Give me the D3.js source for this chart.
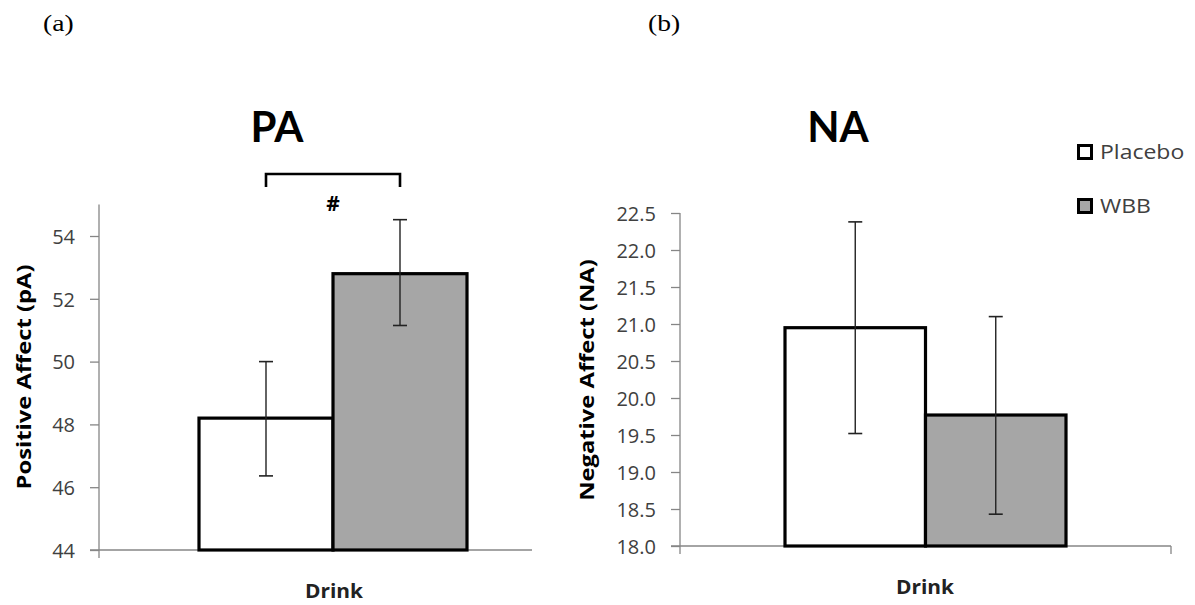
<!DOCTYPE html>
<html><head><meta charset="utf-8">
<script src="https://cdn.jsdelivr.net/npm/d3@7"></script>
<style>body{margin:0;background:#fff}svg{display:block}</style>
</head><body><svg id="c" width="1195" height="605"></svg>
<script>
const groups = ["Placebo", "WBB"];
const paMeans = [48.2, 52.8];
const paLow = [46.36, 51.15];
const paHigh = [50.0, 54.52];
const naMeans = [20.95, 19.77];
const naLow = [19.52, 18.43];
const naHigh = [22.38, 21.1];
const paTicks = [44, 46, 48, 50, 52, 54];
const naTicks = [18.0, 18.5, 19.0, 19.5, 20.0, 20.5, 21.0, 21.5, 22.0, 22.5];
const fills = ["#ffffff", "#a6a6a6"];

const svg = d3.select("#c");
const F = "Lato, 'Open Sans', sans-serif";
const F2 = "'Open Sans', Lato, sans-serif";
const axisCol = "#868686";

function panel(o) {
  const y = d3.scaleLinear().domain(o.domain).range([o.y0, o.y1]);
  const x = d3.scaleBand().domain(groups).range(o.bandRange).padding(0);
  const g = svg.append("g");
  // y axis
  const ax = d3.axisLeft(y).tickValues(o.ticks).tickSize(9).tickFormat(o.fmt);
  const ag = g.append("g").attr("transform", `translate(${o.ax},0)`).call(ax);
  ag.select(".domain").remove();
  ag.selectAll(".tick line").attr("stroke", axisCol).attr("stroke-width", 1.3);
  ag.selectAll(".tick text").attr("font-family", F2).attr("font-size", 20).attr("fill", "#404040").attr("x", -24).attr("dy", "0.36em");
  g.append("line").attr("x1", o.ax).attr("x2", o.ax).attr("y1", y(o.domain[1])).attr("y2", o.y0 + 8).attr("stroke", axisCol).attr("stroke-width", 1.3);
  // x axis
  g.append("line").attr("x1", o.ax - 9).attr("x2", o.xEnd).attr("y1", o.y0).attr("y2", o.y0).attr("stroke", axisCol).attr("stroke-width", 1.3);
  if (o.endTick) g.append("line").attr("x1", o.xEnd).attr("x2", o.xEnd).attr("y1", o.y0).attr("y2", o.y0 + 8).attr("stroke", axisCol).attr("stroke-width", 1.3);
  // bars
  g.selectAll("rect.bar").data(groups).join("rect").attr("class", "bar")
    .attr("x", d => x(d)).attr("width", x.bandwidth())
    .attr("y", (d, i) => y(o.means[i])).attr("height", (d, i) => y(o.domain[0]) - y(o.means[i]))
    .attr("fill", (d, i) => fills[i]).attr("stroke", "#000").attr("stroke-width", 3.2);
  // error bars
  groups.forEach((d, i) => {
    const cx = x(d) + x.bandwidth() / 2;
    g.append("line").attr("x1", cx).attr("x2", cx).attr("y1", y(o.low[i])).attr("y2", y(o.high[i])).attr("stroke", "#222").attr("stroke-width", 1.4);
    [o.low[i], o.high[i]].forEach(v => {
      g.append("line").attr("x1", cx - 7).attr("x2", cx + 7).attr("y1", y(v)).attr("y2", y(v)).attr("stroke", "#222").attr("stroke-width", 1.6);
    });
  });
  // title
  g.append("text").attr("x", o.titleX).attr("y", 142).attr("text-anchor", "middle").attr("font-family", F).attr("font-weight", "bold").attr("font-size", 42).attr("fill", "#000").text(o.title);
  // y label (stretched along its length to match reference)
  g.append("text").attr("transform", `translate(${o.ylabX},${o.ylabY}) rotate(-90) scale(1.25,1)`).attr("text-anchor", "middle").attr("font-family", F2).attr("font-weight", "bold").attr("font-size", 19).attr("fill", "#000").attr("dy", "0.36em").text(o.ylab);
  // x label
  g.append("text").attr("transform", `translate(${o.drinkX},${o.drinkY}) scale(1.1,1)`).attr("text-anchor", "middle").attr("font-family", F2).attr("font-weight", "bold").attr("font-size", 19).attr("fill", "#222").text("Drink");
  // panel letter
  g.append("text").attr("transform", `translate(${o.letterX},31) scale(1.2,1)`).attr("font-family", "'Liberation Serif', 'Times New Roman', serif").attr("font-size", 23).attr("fill", "#000").text(o.letter);
  return {x, y, g};
}

const pa = panel({domain: [44, 55], y0: 550, y1: 204.6, bandRange: [199, 467], ax: 99, xEnd: 532, endTick: false,
  ticks: paTicks, fmt: d3.format("d"), means: paMeans, low: paLow, high: paHigh,
  title: "PA", titleX: 277, ylab: "Positive Affect (pA)", ylabX: 24, ylabY: 377,
  drinkX: 334, drinkY: 598, letter: "(a)", letterX: 43});

const na = panel({domain: [18, 22.5], y0: 546, y1: 213, bandRange: [785, 1066], ax: 680, xEnd: 1171, endTick: true,
  ticks: naTicks, fmt: d3.format(".1f"), means: naMeans, low: naLow, high: naHigh,
  title: "NA", titleX: 838, ylab: "Negative Affect (NA)", ylabX: 587, ylabY: 380,
  drinkX: 925, drinkY: 594, letter: "(b)", letterX: 648});

// significance bracket
const bx1 = pa.x("Placebo") + pa.x.bandwidth() / 2;
const bx2 = pa.x("WBB") + pa.x.bandwidth() / 2;
svg.append("path").attr("d", `M${bx1},187V174H${bx2}V187`).attr("fill", "none").attr("stroke", "#000").attr("stroke-width", 2.6);
svg.append("text").attr("x", (bx1 + bx2) / 2).attr("y", 211).attr("text-anchor", "middle").attr("font-family", F2).attr("font-weight", "bold").attr("font-size", 21).text("#");

// legend
const leg = svg.append("g");
groups.forEach((d, i) => {
  const yy = 144 + i * 54;
  leg.append("rect").attr("x", 1078.5).attr("y", yy + 1.5).attr("width", 13).attr("height", 13).attr("fill", fills[i]).attr("stroke", "#000").attr("stroke-width", 3);
  leg.append("text").attr("transform", `translate(1100,${yy + 8}) scale(1.15,1)`).attr("dy", "0.36em").attr("font-family", F2).attr("font-size", 20).attr("fill", "#404040").text(d);
});
</script>
</body></html>
